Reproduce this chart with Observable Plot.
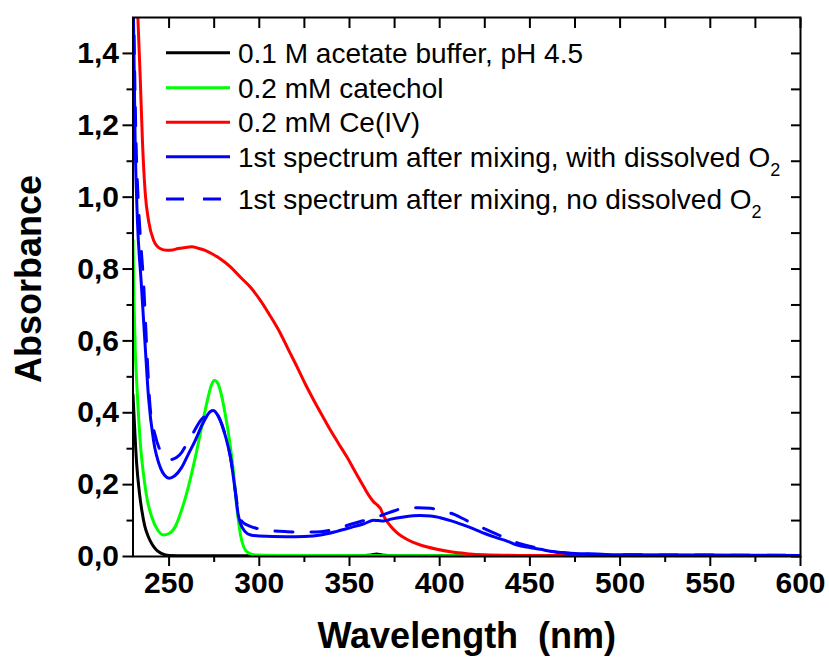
<!DOCTYPE html>
<html>
<head>
<meta charset="utf-8">
<script src="https://cdn.jsdelivr.net/npm/d3@7"></script>
<script src="https://cdn.jsdelivr.net/npm/@observablehq/plot@0.6"></script>
<style>
  body { margin: 0; background: #fff; }
  #wrap { position: relative; width: 829px; height: 661px; }
  #legend { position: absolute; left: 0; top: 0; pointer-events: none; }
</style>
</head>
<body>
<div id="wrap"></div>
<script>
// ---------- data ----------
const bufferWl  = [230, 230.5, 232, 233.5, 235, 236.5, 238.5, 240.5, 243, 246, 250, 260, 300, 355, 362, 365, 368, 375, 420, 500, 600];
const bufferAbs = [0.45, 0.40, 0.26, 0.18, 0.125, 0.085, 0.055, 0.035, 0.018, 0.008, 0.003, 0.002, 0.002, 0.002, 0.004, 0.007, 0.004, 0.002, 0.002, 0.001, 0.001];

const catecholWl  = [230, 230.5, 231.2, 232, 233, 234.3, 235.8, 238, 240.4, 243.5, 246.9, 250, 253.4, 257, 260.7, 264.5, 268.1, 271.5, 273.5, 275.2, 277, 279, 281.1, 284, 285.8, 287.5, 289.6, 291.5, 294, 298, 310, 400, 600];
const catecholAbs = [0.88, 0.72, 0.58, 0.49, 0.397, 0.30, 0.23, 0.155, 0.11, 0.075, 0.06, 0.064, 0.083, 0.13, 0.194, 0.275, 0.361, 0.44, 0.478, 0.49, 0.482, 0.45, 0.397, 0.305, 0.23, 0.14, 0.06, 0.025, 0.01, 0.004, 0.003, 0.002, 0.002];

const ceWl  = [230, 231.5, 232.7, 234, 235.3, 236.8, 238.6, 241.4, 245, 248.7, 252, 255, 259, 262.6, 266, 270, 274, 278.5, 284, 289.6, 295, 300.7, 306, 311.8, 316, 321, 325.5, 330.2, 334.8, 339.4, 344, 348.7, 353, 357.9, 361, 363.4, 365.5, 367.1, 369, 372.7, 376.4, 381, 385, 389.3, 398.5, 406, 415, 425, 450, 500, 600];
const ceAbs = [1.85, 1.62, 1.5, 1.333, 1.148, 1.01, 0.935, 0.88, 0.857, 0.852, 0.853, 0.857, 0.86, 0.862, 0.858, 0.852, 0.842, 0.828, 0.806, 0.777, 0.75, 0.712, 0.67, 0.62, 0.577, 0.527, 0.48, 0.435, 0.393, 0.352, 0.314, 0.276, 0.237, 0.194, 0.168, 0.152, 0.143, 0.134, 0.112, 0.085, 0.066, 0.05, 0.04, 0.032, 0.02, 0.013, 0.008, 0.005, 0.003, 0.002, 0.001];

const withO2Wl  = [230, 231.2, 232.5, 234.5, 236.8, 238.6, 241.4, 245.1, 247.5, 250, 253, 257, 260.5, 264.4, 268.5, 272.8, 274.5, 276.5, 279.2, 281.5, 284, 286.8, 288.2, 289.6, 292, 295.2, 300, 315, 325, 334, 343, 352.3, 358, 363.4, 366, 369, 373, 380, 389, 395, 400.3, 406, 413, 418.8, 425, 431, 437.3, 443, 450, 455.8, 462, 470.5, 483.5, 500, 550, 600];
const withO2Abs = [1.6, 1.15, 0.93, 0.767, 0.582, 0.443, 0.322, 0.248, 0.226, 0.218, 0.224, 0.248, 0.283, 0.322, 0.368, 0.403, 0.406, 0.397, 0.368, 0.33, 0.277, 0.176, 0.12, 0.092, 0.07, 0.06, 0.057, 0.055, 0.056, 0.06, 0.07, 0.083, 0.091, 0.101, 0.1, 0.099, 0.104, 0.11, 0.114, 0.113, 0.108, 0.1, 0.088, 0.077, 0.064, 0.053, 0.043, 0.032, 0.025, 0.02, 0.014, 0.01, 0.007, 0.005, 0.004, 0.003];

const noO2Wl  = [230, 231.7, 233, 234.2, 235.8, 237.6, 239.5, 242.3, 245.1, 248, 251, 254.3, 257, 259.8, 263.5, 267.2, 271.8, 274.5, 276.5, 279.2, 281.5, 284, 286.8, 288.5, 290.5, 294, 298.8, 306, 315.4, 325, 333.9, 343, 352.3, 358, 365.3, 372, 380, 388, 395, 402, 408, 415, 422.7, 430, 438, 445, 452, 460, 470, 483, 500, 550, 600];
const noO2Abs = [1.65, 1.15, 0.98, 0.88, 0.767, 0.582, 0.415, 0.337, 0.295, 0.278, 0.27, 0.276, 0.29, 0.313, 0.345, 0.377, 0.397, 0.404, 0.397, 0.368, 0.33, 0.277, 0.18, 0.12, 0.097, 0.086, 0.078, 0.072, 0.069, 0.068, 0.069, 0.078, 0.092, 0.1, 0.11, 0.122, 0.134, 0.136, 0.134, 0.127, 0.117, 0.1, 0.082, 0.066, 0.048, 0.035, 0.026, 0.016, 0.01, 0.007, 0.005, 0.004, 0.003];

const seriesNames  = ["0.1 M acetate buffer, pH 4.5", "0.2 mM catechol", "0.2 mM Ce(IV)", "1st spectrum after mixing, with dissolved O", "1st spectrum after mixing, no dissolved O"];
const seriesSubs   = ["", "", "", "2", "2"];
const seriesColors = ["#000000", "#00ff00", "#ff0000", "#0000ff", "#0000ff"];
const seriesDashed = [false, false, false, false, true];

const xMajorTicks = [250, 300, 350, 400, 450, 500, 550, 600];
const xMinorTicks = [275, 325, 375, 425, 475, 525, 575];
const yMajorTicks = [0, 0.2, 0.4, 0.6, 0.8, 1.0, 1.2, 1.4];
const yTickLabels = ["0,0", "0,2", "0,4", "0,6", "0,8", "1,0", "1,2", "1,4"];
const yMinorTicks = [0.1, 0.3, 0.5, 0.7, 0.9, 1.1, 1.3];
const xTitle = "Wavelength\u00a0 (nm)";
const yTitle = "Absorbance";

// ---------- build tables ----------
const wlLists  = [bufferWl, catecholWl, ceWl, withO2Wl, noO2Wl];
const absLists = [bufferAbs, catecholAbs, ceAbs, withO2Abs, noO2Abs];
const tables = wlLists.map((wl, s) => wl.map((w, i) => ({wl: w, abs: absLists[s][i]})));

const yLabelMap = new Map(yMajorTicks.map((v, i) => [v, yTickLabels[i]]));
const allX = [...xMajorTicks, ...xMinorTicks].sort((a, b) => a - b);
const allY = [...yMajorTicks, ...yMinorTicks].sort((a, b) => a - b);

const font = "'Liberation Sans', Arial, Helvetica, sans-serif";

const lineMarks = tables.map((t, s) => Plot.line(t, {
  x: "wl", y: "abs",
  stroke: seriesColors[s],
  strokeWidth: 3,
  strokeDasharray: seriesDashed[s] ? "18,18" : null,
  curve: "monotone-x",
  clip: true
}));

const chart = Plot.plot({
  width: 829,
  height: 661,
  marginLeft: 132.5,
  marginRight: 29,
  marginTop: 17,
  marginBottom: 105,
  style: {fontFamily: font, background: "#fff", color: "#000", overflow: "visible"},
  x: {domain: [230, 600]},
  y: {domain: [0, 1.5]},
  marks: [
    ...lineMarks,
    Plot.frame({stroke: "#000", strokeWidth: 2}),
    Plot.axisX(xMajorTicks, {anchor: "bottom", tickSize: 10, tickPadding: 5, strokeWidth: 2,
      tickFormat: d => String(d), fontSize: 30, fontWeight: "bold", label: null}),
    Plot.axisX(xMinorTicks, {anchor: "bottom", tickSize: 6, strokeWidth: 2, tickFormat: () => "", label: null}),
    Plot.axisX(allX, {anchor: "top", tickSize: -10, strokeWidth: 2, tickFormat: () => "", label: null}),
    Plot.axisY(yMajorTicks, {anchor: "left", tickSize: 10, tickPadding: 4, strokeWidth: 2,
      tickFormat: d => yLabelMap.get(d), fontSize: 30, fontWeight: "bold", label: null}),
    Plot.axisY(yMinorTicks, {anchor: "left", tickSize: 6, strokeWidth: 2, tickFormat: () => "", label: null}),
    Plot.axisY(allY, {anchor: "right", tickSize: -10, strokeWidth: 2, tickFormat: () => "", label: null}),
    Plot.text([xTitle], {frameAnchor: "bottom", dy: 91, fontSize: 36, fontWeight: "bold", fill: "#000"}),
    Plot.text([yTitle], {frameAnchor: "left", textAnchor: "middle", lineAnchor: "middle", rotate: -90, dx: -104, dy: -8, fontSize: 36, fontWeight: "bold", fill: "#000"})
  ]
});

const wrap = document.getElementById("wrap");
wrap.appendChild(chart);

// ---------- legend overlay ----------
const legendRowsY = [52.7, 87.7, 122.3, 156.7, 199];
const leg = d3.select(wrap).append("svg")
  .attr("id", "legend")
  .attr("width", 829).attr("height", 661)
  .style("font-family", font);

seriesNames.forEach((name, i) => {
  const y = legendRowsY[i];
  leg.append("line")
    .attr("x1", 166).attr("x2", seriesDashed[i] ? 222 : 230).attr("y1", y).attr("y2", y)
    .attr("stroke", seriesColors[i]).attr("stroke-width", 3)
    .attr("stroke-dasharray", seriesDashed[i] ? "18,19" : null);
  const t = leg.append("text")
    .attr("x", 238).attr("y", y + 10)
    .attr("font-size", 28).attr("fill", "#000")
    .text(name);
  if (seriesSubs[i]) {
    t.append("tspan").attr("font-size", 18).attr("dy", 9).text(seriesSubs[i]);
  }
});
</script>
</body>
</html>
